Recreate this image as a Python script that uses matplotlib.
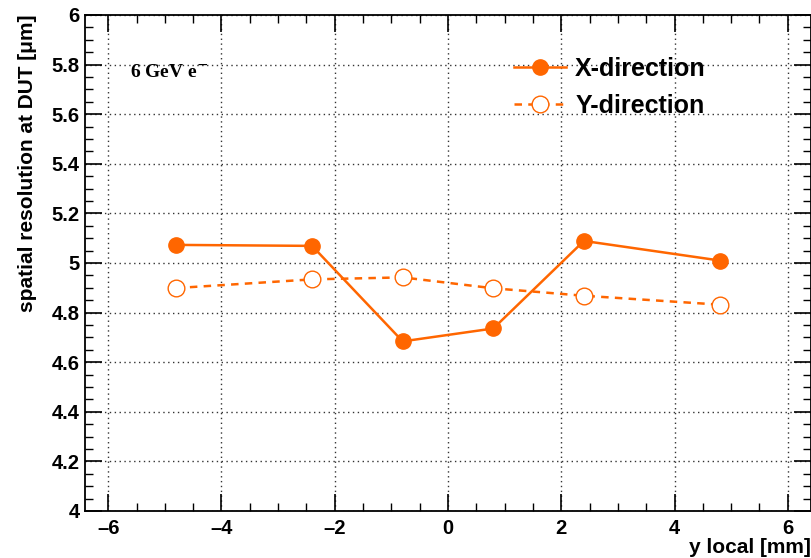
import matplotlib
matplotlib.use("Agg")
import matplotlib.pyplot as plt
from matplotlib.ticker import MultipleLocator, FuncFormatter

y_local = [-4.8, -2.4, -0.8, 0.8, 2.4, 4.8]
res_x = [5.073, 5.069, 4.684, 4.736, 5.089, 5.010]
res_y = [4.899, 4.934, 4.942, 4.898, 4.868, 4.832]
series_labels = ["X-direction", "Y-direction"]
color = "#ff6600"

plt.rcParams['font.family'] = ['Liberation Sans', 'DejaVu Sans']

fig = plt.figure(figsize=(8.12, 5.58), dpi=100)
ax = fig.add_axes([85/812, 1-511/558, 726/812, 496/558])

ax.plot(y_local, res_x, '-', color=color, lw=1.8, marker='o', ms=11,
        mfc=color, mec=color, label=series_labels[0], zorder=3)
ax.plot(y_local, res_y, '--', color=color, lw=1.8, marker='o', ms=12,
        mfc='white', mec=color, mew=1.0, dashes=(3, 2.5),
        label=series_labels[1], zorder=3)

ax.set_xlim(-6.41, 6.41)
ax.set_ylim(4, 6)
ax.xaxis.set_major_locator(MultipleLocator(2))
ax.xaxis.set_minor_locator(MultipleLocator(0.5))
ax.yaxis.set_major_locator(MultipleLocator(0.2))
ax.yaxis.set_minor_locator(MultipleLocator(0.05))

def xfmt(v, pos):
    s = "%g" % round(v, 3)
    return s.replace("-", "\u2013")
def yfmt(v, pos):
    return "%g" % round(v, 3)
ax.xaxis.set_major_formatter(FuncFormatter(xfmt))
ax.yaxis.set_major_formatter(FuncFormatter(yfmt))

ax.tick_params(which='both', direction='in', top=True, right=True, color='black')
ax.tick_params(which='major', length=12, width=1.2, labelsize=14.5)
ax.tick_params(which='minor', length=6, width=1.0)
ax.tick_params(axis='x', pad=6)
ax.tick_params(axis='y', pad=4)
for lab in ax.get_xticklabels() + ax.get_yticklabels():
    lab.set_fontweight('bold')
for s in ax.spines.values():
    s.set_linewidth(1.3)

ax.grid(True, which='major', linestyle=(0, (1, 2.5)), color='#333333', lw=1.0)
ax.set_axisbelow(True)

ax.set_xlabel("y local [mm]", fontsize=15, fontweight='bold', loc='right', labelpad=0)
ax.set_ylabel("spatial resolution at DUT [\u03bcm]", fontsize=15, fontweight='bold',
              loc='top', labelpad=10)

ax.text(45/726, 0.885, "6 GeV e$^{-}$", transform=ax.transAxes, fontsize=14,
        fontweight='bold', family=['Liberation Serif', 'DejaVu Serif'], va='center')

leg = ax.legend(loc='upper left', bbox_to_anchor=(0.577, 0.935), frameon=False,
                prop={'weight': 'bold', 'size': 18}, handlelength=2.1,
                labelspacing=0.5, handletextpad=0.35, borderaxespad=0)

fig.savefig("out.png", dpi=100)
